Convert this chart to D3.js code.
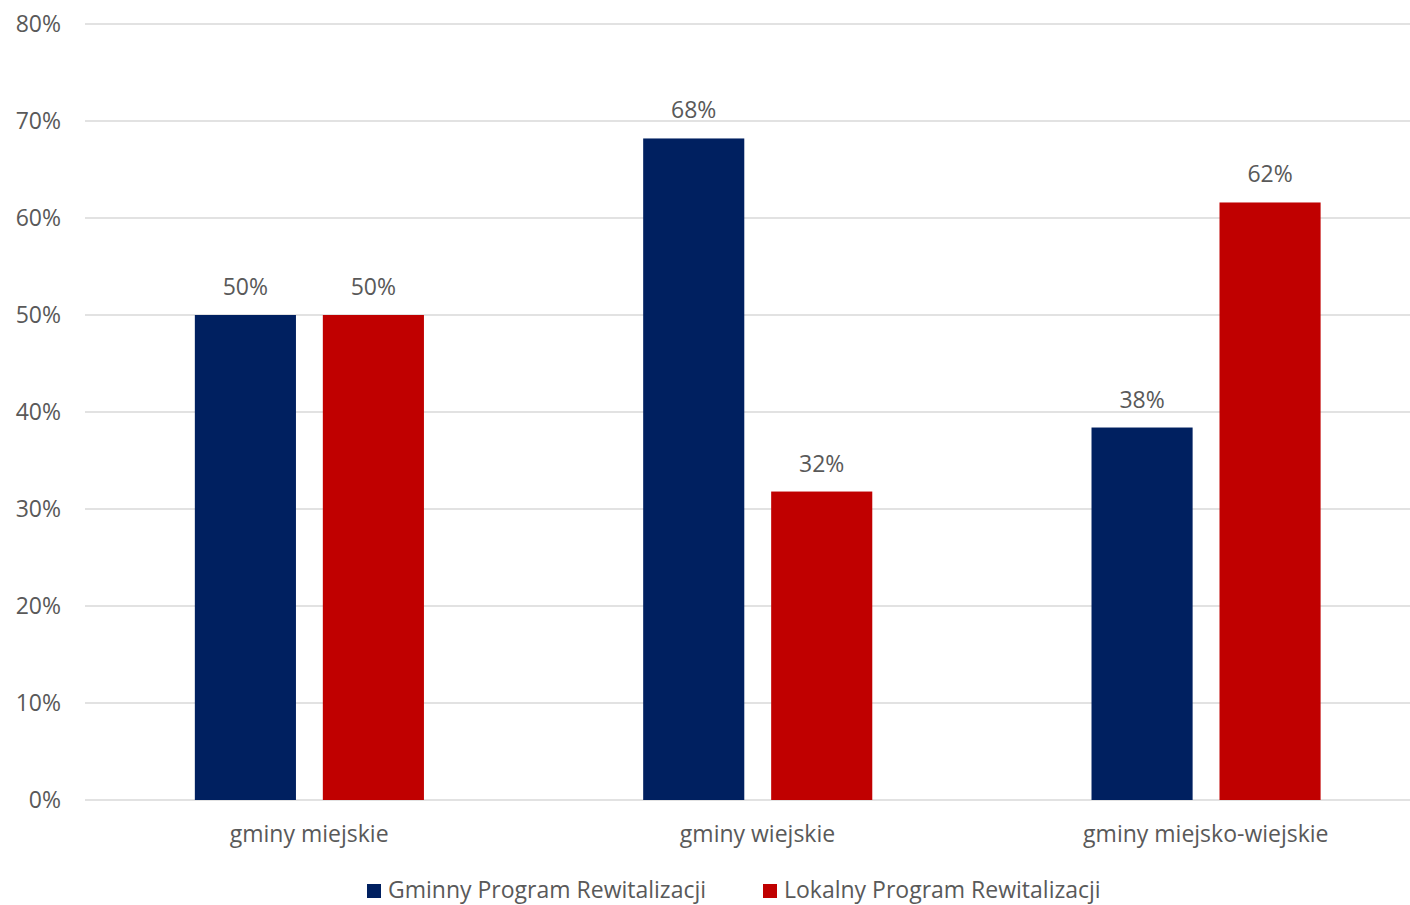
<!DOCTYPE html>
<html>
<head>
<meta charset="utf-8">
<script src="https://cdn.jsdelivr.net/npm/d3@7"></script>
<style>
  html, body { margin: 0; padding: 0; background: #fff; }
  text { font-family: "Open Sans", sans-serif; fill: #595959; }
</style>
</head>
<body>
<div class="chart"></div>
<script>
// data
const categories = ['gminy miejskie', 'gminy wiejskie', 'gminy miejsko-wiejskie'];
const seriesNames = ['Gminny Program Rewitalizacji', 'Lokalny Program Rewitalizacji'];
const gminnyValues = [50, 68.2, 38.4];
const lokalnyValues = [50, 31.8, 61.6];
const yTicks = [0, 10, 20, 30, 40, 50, 60, 70, 80];
const colors = ['#002060', '#C00000'];

const width = 1410;
const height = 905;
const margin = { top: 24, right: 0, bottom: 105, left: 85 };
const plotBottom = height - margin.bottom;

const svg = d3.select('.chart')
  .append('svg')
    .attr('width', width)
    .attr('height', height);

const yScale = d3.scaleLinear()
  .domain([0, 80])
  .range([plotBottom, margin.top]);

// the plot area runs a little past the picture edge
const x0 = d3.scaleBand()
  .domain(categories)
  .range([margin.left, 1430]);

const x1 = d3.scaleBand()
  .domain(seriesNames)
  .range([x0.bandwidth() * 0.245, x0.bandwidth() * 0.756])
  .paddingInner(0.21);

// gridlines
svg.append('g')
  .selectAll('line')
  .data(yTicks)
  .enter()
  .append('line')
    .attr('x1', margin.left)
    .attr('x2', width)
    .attr('y1', d => yScale(d))
    .attr('y2', d => yScale(d))
    .attr('stroke', '#d9d9d9')
    .attr('stroke-width', 1.5);

// y axis labels
const yAxis = d3.axisLeft(yScale)
  .tickValues(yTicks)
  .tickFormat(d => d + '%')
  .tickSize(0)
  .tickPadding(0);

svg.append('g')
  .attr('transform', 'translate(61, 0)')
  .call(yAxis)
  .call(g => g.select('.domain').remove())
  .selectAll('text')
    .style('font-size', '23px')
    .attr('fill', '#595959');

// bars
const rows = categories.map((c, i) => ({
  category: c,
  values: [
    { series: seriesNames[0], value: gminnyValues[i], color: colors[0] },
    { series: seriesNames[1], value: lokalnyValues[i], color: colors[1] }
  ]
}));

const groups = svg.append('g')
  .selectAll('g')
  .data(rows)
  .enter()
  .append('g')
    .attr('transform', d => `translate(${x0(d.category)}, 0)`);

groups.selectAll('rect')
  .data(d => d.values)
  .enter()
  .append('rect')
    .attr('x', d => x1(d.series))
    .attr('y', d => yScale(d.value))
    .attr('width', x1.bandwidth())
    .attr('height', d => plotBottom - yScale(d.value))
    .attr('fill', d => d.color);

groups.selectAll('text')
  .data(d => d.values)
  .enter()
  .append('text')
    .attr('x', d => x1(d.series) + x1.bandwidth() / 2)
    .attr('y', d => yScale(d.value) - 20)
    .attr('text-anchor', 'middle')
    .style('font-size', '23px')
    .text(d => Math.round(d.value) + '%');

// x axis labels
svg.append('g')
  .selectAll('text')
  .data(categories)
  .enter()
  .append('text')
    .attr('x', d => x0(d) + x0.bandwidth() / 2)
    .attr('y', plotBottom + 42)
    .attr('text-anchor', 'middle')
    .style('font-size', '23px')
    .text(d => d);

// legend
const legendX = [367, 763];
const legend = svg.append('g')
  .selectAll('g')
  .data(seriesNames)
  .enter()
  .append('g')
    .attr('transform', (d, i) => `translate(${legendX[i]}, 0)`);

legend.append('rect')
  .attr('x', 0)
  .attr('y', 884)
  .attr('width', 14)
  .attr('height', 14)
  .attr('fill', (d, i) => colors[i]);

legend.append('text')
  .attr('x', 21)
  .attr('y', 898)
  .style('font-size', '23px')
  .text(d => d);
</script>
</body>
</html>
